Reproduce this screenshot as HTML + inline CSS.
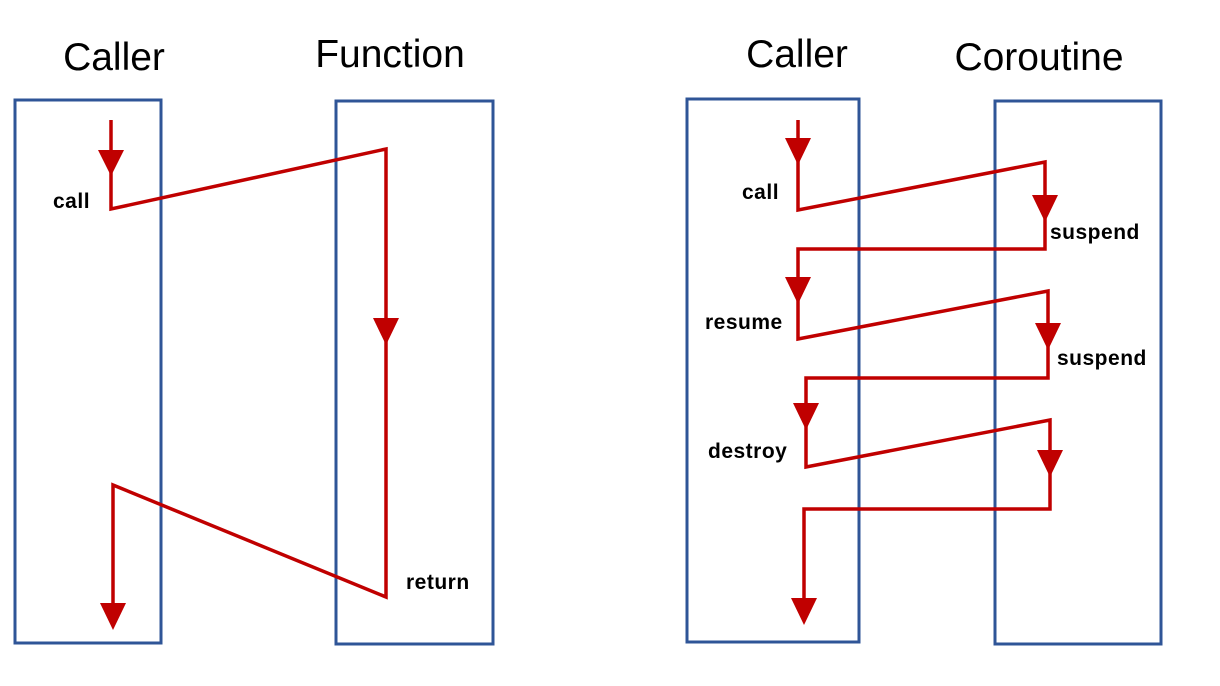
<!DOCTYPE html>
<html><head><meta charset="utf-8"><style>
html,body{margin:0;padding:0;background:#fff;}
svg{display:block}
text{font-family:"Liberation Sans",sans-serif;}
</style></head><body>
<svg width="1220" height="686" viewBox="0 0 1220 686" xmlns="http://www.w3.org/2000/svg">
<g fill="none" stroke="#2f5597" stroke-width="3">
<rect x="15" y="100" width="146" height="543"/>
<rect x="336" y="101" width="157" height="543"/>
<rect x="687" y="99" width="172" height="543"/>
<rect x="995" y="101" width="166" height="543"/>
</g>
<g fill="none" stroke="#c00000" stroke-width="3.5" stroke-linejoin="miter">
<polyline points="111,120 111,209 386,149 386,597 113,485 113,612"/>
<polyline points="798,120 798,210 1045,162 1045,249 798,249 798,339 1048,291 1048,378 806,378 806,467 1050,420 1050,509 804,509 804,605"/>
</g>
<g fill="#c00000">
<polygon points="98,150 124,150 111,176"/>
<polygon points="373,318 399,318 386,345"/>
<polygon points="100,603 126,603 113,630"/>
<polygon points="785,138 811,138 798,165"/>
<polygon points="1032,195 1058,195 1045,222"/>
<polygon points="785,277 811,277 798,304"/>
<polygon points="1035,323 1061,323 1048,350"/>
<polygon points="793,403 819,403 806,430"/>
<polygon points="1037,450 1063,450 1050,477"/>
<polygon points="791,598 817,598 804,625"/>
</g>
<g font-size="39" fill="#000" text-anchor="middle">
<text x="114" y="70">Caller</text>
<text x="390" y="67">Function</text>
<text x="797" y="67">Caller</text>
<text x="1039" y="70">Coroutine</text>
</g>
<g font-size="21" font-weight="bold" fill="#000" letter-spacing="0.5">
<text x="53" y="208">call</text>
<text x="406" y="589">return</text>
<text x="742" y="199">call</text>
<text x="1050" y="239">suspend</text>
<text x="705" y="329">resume</text>
<text x="1057" y="365">suspend</text>
<text x="708" y="458">destroy</text>
</g>
</svg>
</body></html>
